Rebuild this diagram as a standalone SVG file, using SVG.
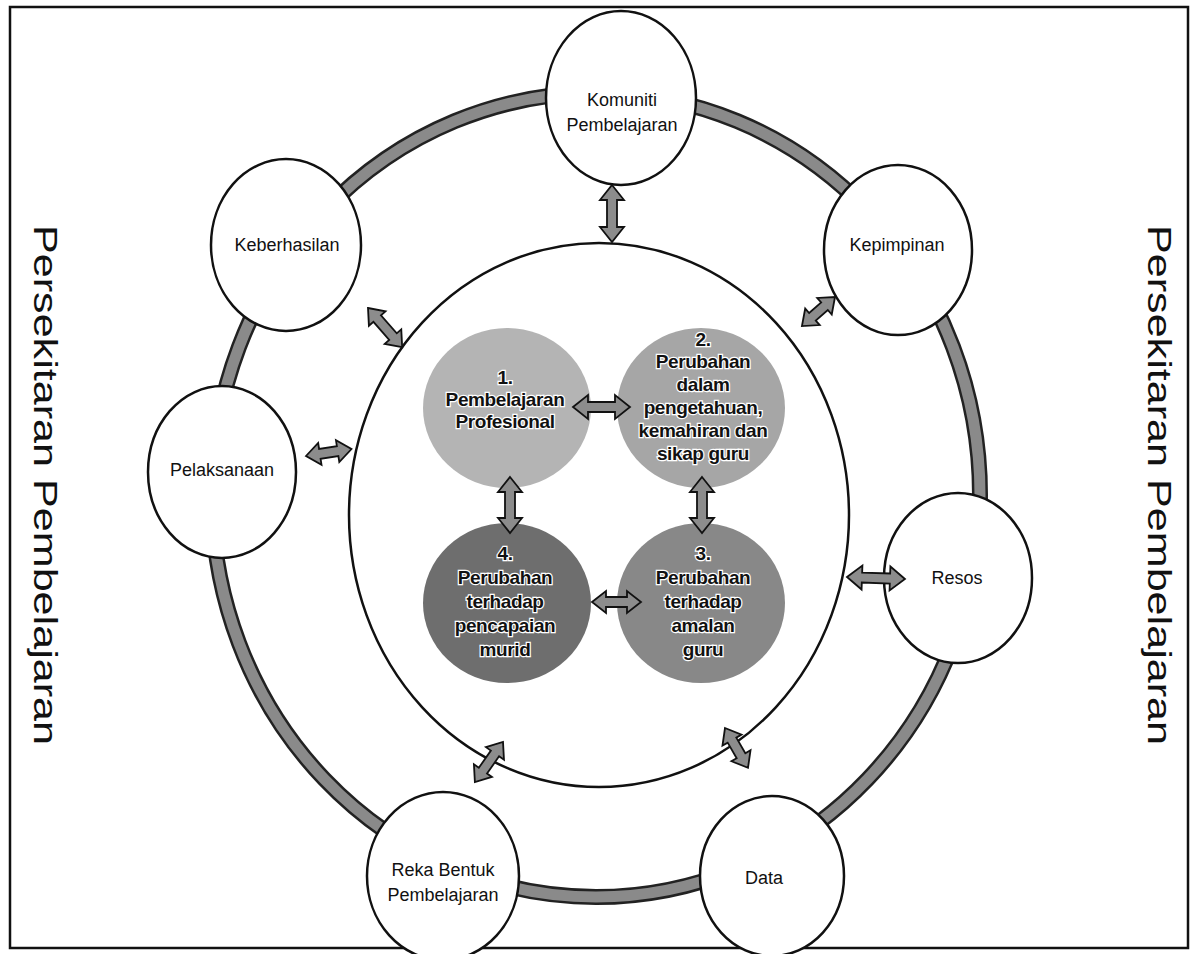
<svg xmlns="http://www.w3.org/2000/svg" width="1192" height="954" viewBox="0 0 1192 954">
<style>
.node{fill:#fff;stroke:#111;stroke-width:2.5}
.lbl{font-family:"Liberation Sans",Arial,sans-serif;font-size:18px;fill:#111;text-anchor:middle}
.in{font-family:"Liberation Sans",Arial,sans-serif;font-size:19px;font-weight:bold;fill:#111;text-anchor:middle;stroke:#fff;stroke-width:2.5;paint-order:stroke;letter-spacing:-0.4px}
.side{font-family:"Liberation Sans",Arial,sans-serif;font-size:34px;fill:#111;text-anchor:middle}
.arr{fill:#8c8c8c;stroke:#111;stroke-width:1.8;stroke-linejoin:miter}
</style>
<rect x="10" y="7" width="1178" height="941" fill="none" stroke="#111" stroke-width="2.5"/>
<text class="side" transform="translate(34,485) rotate(90)" textLength="520" lengthAdjust="spacingAndGlyphs">Persekitaran Pembelajaran</text>
<text class="side" transform="translate(1148,485) rotate(90)" textLength="520" lengthAdjust="spacingAndGlyphs">Persekitaran Pembelajaran</text>
<g id="ring">
<ellipse cx="596" cy="495" rx="384" ry="402" fill="none" stroke="#222" stroke-width="16"/>
<ellipse cx="596" cy="495" rx="384" ry="402" fill="none" stroke="#8a8a8a" stroke-width="11"/>
</g>
<g id="inner-circle"><ellipse cx="599" cy="515" rx="250" ry="272" class="node"/></g>
<g id="komuniti"><ellipse cx="621" cy="98" rx="75" ry="87" class="node"/><text class="lbl" x="622" y="106">Komuniti</text><text class="lbl" x="622" y="131">Pembelajaran</text></g>
<g id="kepimpinan"><ellipse cx="898" cy="250" rx="74" ry="85" class="node"/><text class="lbl" x="897" y="251">Kepimpinan</text></g>
<g id="keberhasilan"><ellipse cx="286" cy="245" rx="75" ry="86" class="node"/><text class="lbl" x="287" y="251">Keberhasilan</text></g>
<g id="pelaksanaan"><ellipse cx="222" cy="472" rx="74" ry="86" class="node"/><text class="lbl" x="222" y="476">Pelaksanaan</text></g>
<g id="resos"><ellipse cx="958" cy="578" rx="74" ry="85" class="node"/><text class="lbl" x="957" y="584">Resos</text></g>
<g id="reka-bentuk"><ellipse cx="443" cy="876" rx="76" ry="84" class="node"/><text class="lbl" x="443" y="876">Reka Bentuk</text><text class="lbl" x="443" y="901">Pembelajaran</text></g>
<g id="data"><ellipse cx="772" cy="876" rx="72" ry="80" class="node"/><text class="lbl" x="764" y="884">Data</text></g>
<g id="c1"><ellipse cx="507" cy="408" rx="84" ry="80" fill="#b4b4b4"/><text class="in" x="505" y="384">1.</text><text class="in" x="505" y="406">Pembelajaran</text><text class="in" x="505" y="428">Profesional</text></g>
<g id="c2"><ellipse cx="701" cy="408" rx="84" ry="80" fill="#a6a6a6"/><text class="in" x="703" y="346">2.</text><text class="in" x="703" y="368">Perubahan</text><text class="in" x="703" y="391">dalam</text><text class="in" x="703" y="414">pengetahuan,</text><text class="in" x="703" y="437">kemahiran dan</text><text class="in" x="703" y="460">sikap guru</text></g>
<g id="c4"><ellipse cx="507" cy="603" rx="84" ry="80" fill="#6e6e6e"/><text class="in" x="505" y="560">4.</text><text class="in" x="505" y="584">Perubahan</text><text class="in" x="505" y="608">terhadap</text><text class="in" x="505" y="632">pencapaian</text><text class="in" x="505" y="656">murid</text></g>
<g id="c3"><ellipse cx="701" cy="603" rx="84" ry="80" fill="#888"/><text class="in" x="703" y="560">3.</text><text class="in" x="703" y="584">Perubahan</text><text class="in" x="703" y="608">terhadap</text><text class="in" x="703" y="632">amalan</text><text class="in" x="703" y="656">guru</text></g>
<g id="connectors">
<path class="arr" transform="translate(612,185) rotate(90)" d="M0,0 L15,-12 L15,-5 L42,-5 L42,-12 L57,0 L42,12 L42,5 L15,5 L15,12 Z"/>
<path class="arr" transform="translate(835,297) rotate(138.7)" d="M0,0 L14,-11 L14,-5 L30,-5 L30,-11 L44,0 L30,11 L30,5 L14,5 L14,11 Z"/>
<path class="arr" transform="translate(368,308) rotate(48.9)" d="M0,0 L14,-11 L14,-5 L38,-5 L38,-11 L52,0 L38,11 L38,5 L14,5 L14,11 Z"/>
<path class="arr" transform="translate(306,456) rotate(-8.7)" d="M0,0 L14,-11 L14,-5 L32,-5 L32,-11 L46,0 L32,11 L32,5 L14,5 L14,11 Z"/>
<path class="arr" transform="translate(847,577) rotate(2)" d="M0,0 L15,-12 L15,-5 L43,-5 L43,-12 L58,0 L43,12 L43,5 L15,5 L15,12 Z"/>
<path class="arr" transform="translate(503,742) rotate(125)" d="M0,0 L14,-11 L14,-5 L35,-5 L35,-11 L49,0 L35,11 L35,5 L14,5 L14,11 Z"/>
<path class="arr" transform="translate(725,728) rotate(60)" d="M0,0 L14,-11 L14,-5 L32,-5 L32,-11 L46,0 L32,11 L32,5 L14,5 L14,11 Z"/>
<path class="arr" transform="translate(573,407)" d="M0,0 L15,-12 L15,-5 L42,-5 L42,-12 L57,0 L42,12 L42,5 L15,5 L15,12 Z"/>
<path class="arr" transform="translate(510,477) rotate(90)" d="M0,0 L15,-12 L15,-5 L41,-5 L41,-12 L56,0 L41,12 L41,5 L15,5 L15,12 Z"/>
<path class="arr" transform="translate(702,477) rotate(90)" d="M0,0 L15,-12 L15,-5 L41,-5 L41,-12 L56,0 L41,12 L41,5 L15,5 L15,12 Z"/>
<path class="arr" transform="translate(592,602)" d="M0,0 L14,-11 L14,-5 L35,-5 L35,-11 L49,0 L35,11 L35,5 L14,5 L14,11 Z"/>
</g>
</svg>
